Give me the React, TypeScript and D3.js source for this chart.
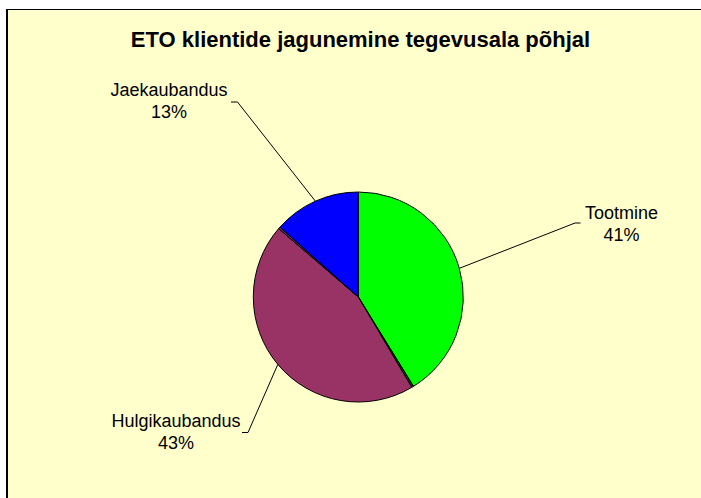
import React from "react";
import * as d3 from "d3";

const categories = ["Tootmine", "Muu A", "Hulgikaubandus", "Muu B", "Jaekaubandus"];
const values = [41.2, 0.3, 44.8, 0.3, 13.4];
const percentLabels = ["41%", "", "43%", "", "13%"];
const colors = ["#00FF00", "#1a3a1a", "#993366", "#663366", "#0000FF"];
const title = "ETO klientide jagunemine tegevusala põhjal";

const W = 701;
const H = 498;
const cx = 358.3;
const cy = 297;
const R = 105;

// label layout: [textCenterX, firstBaselineY, elbowX, elbowY, endX]
const labelLayout: Record<number, [number, number, number, number, number]> = {
  0: [621.5, 218.5, 575, 223, 580.5],
  2: [176, 426.5, 248, 432.5, 242],
  4: [169, 95.5, 237.5, 102, 231],
};

export default function App() {
  const pie = d3.pie<number>().sort(null).value((d) => d)(values);
  const arc = d3.arc<d3.PieArcDatum<number>>().innerRadius(0).outerRadius(R);
  const outer = d3.arc<d3.PieArcDatum<number>>().innerRadius(R).outerRadius(R);
  return (
    <svg
      width={W}
      height={H}
      style={{ position: "absolute", left: 0, top: 0, background: "#ffffff" }}
    >
      <rect x={7} y={9} width={720} height={520} fill="#FFFFCC" />
      <line x1={7} y1={9.5} x2={W} y2={9.5} stroke="#000" strokeWidth={1} />
      <line x1={7} y1={9} x2={7} y2={H} stroke="#000" strokeWidth={2} />
      <text
        x={360.5}
        y={46.5}
        textAnchor="middle"
        fontFamily="Liberation Sans, Arial, sans-serif"
        fontWeight="bold"
        fontSize={22}
        fill="#000"
      >
        {title}
      </text>
      <g transform={`translate(${cx},${cy})`}>
        {pie.map((p, i) => (
          <path key={i} d={arc(p) || ""} fill={colors[i]} stroke="#000" strokeWidth={1} strokeLinejoin="round" />
        ))}
      </g>
      {pie.map((p, i) => {
        const lay = labelLayout[i];
        if (!lay) return null;
        const [px, py] = outer.centroid(p);
        const [tx, ty, ex, ey, endX] = lay;
        return (
          <g key={"l" + i}>
            <polyline
              points={`${cx + px},${cy + py} ${ex},${ey} ${endX},${ey}`}
              fill="none"
              stroke="#000"
              strokeWidth={1}
            />
            <text
              x={tx}
              y={ty}
              textAnchor="middle"
              fontFamily="Liberation Sans, Arial, sans-serif"
              fontSize={18}
              fill="#000"
            >
              {categories[i]}
            </text>
            <text
              x={tx}
              y={ty + 22}
              textAnchor="middle"
              fontFamily="Liberation Sans, Arial, sans-serif"
              fontSize={18}
              fill="#000"
            >
              {percentLabels[i]}
            </text>
          </g>
        );
      })}
    </svg>
  );
}
